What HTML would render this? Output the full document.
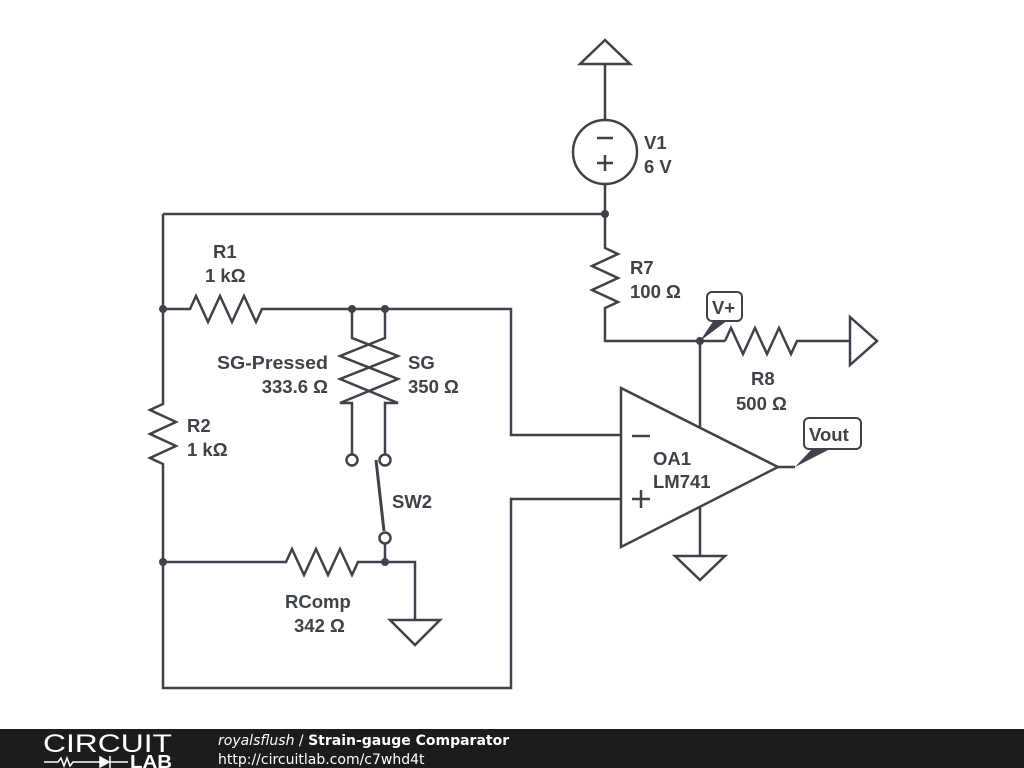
<!DOCTYPE html>
<html><head><style>
html,body{margin:0;padding:0;background:#fff;width:1024px;height:768px;overflow:hidden}
svg{display:block}
text{font-family:"Liberation Sans",sans-serif;font-weight:bold;fill:#3d4348;font-size:18.5px}
text.f{font-family:"DejaVu Sans",sans-serif;fill:#fff;font-size:14px;font-weight:normal}
</style></head><body>
<svg width="1024" height="768" viewBox="0 0 1024 768">
<g stroke="#3d4348" stroke-width="2.5" fill="none" stroke-linejoin="miter">
<polygon points="605,40 580,64 630,64"/>
<line x1="605" y1="64" x2="605" y2="120"/>
<circle cx="605" cy="152" r="32"/>
<line x1="597" y1="138" x2="613" y2="138"/>
<line x1="597" y1="163" x2="613" y2="163"/><line x1="605" y1="155" x2="605" y2="171"/>
<line x1="605" y1="184" x2="605" y2="240"/>
<line x1="163" y1="214" x2="605" y2="214"/>
<polyline points="605,240 605,248 618,254 592,266 618,278 592,290 618,302 605,308 605,341 725,341"/>
<polyline points="725,341 731,328 743,354 755,328 767,354 779,328 791,354 797,341 850,341"/>
<polygon points="850,317 850,365 877,341"/>
<line x1="700" y1="341" x2="700" y2="428"/>
<line x1="700" y1="507" x2="700" y2="556"/>
<polygon points="675,556 725,556 700,580"/>
<polygon points="621,388 621,547 778,467"/>
<line x1="778" y1="467" x2="795" y2="467"/>
<line x1="632" y1="436" x2="650" y2="436"/>
<line x1="632" y1="499" x2="650" y2="499"/><line x1="641" y1="490" x2="641" y2="508"/>
<polyline points="163,214 163,400"/>
<polyline points="163,400 163,404 150,410 176,422 150,434 176,446 150,458 163,464 163,688 511,688 511,499 621,499"/>
<polyline points="163,309 190,309 196,296 208,322 220,296 232,322 244,296 256,322 262,309 511,309 511,435 621,435"/>
<polyline points="352,309 352,338 398,356 340,379 398,403 385,403 385,455"/>
<polyline points="385,309 385,338 340,356 398,379 340,403 352,403 352,455"/>
<circle cx="352" cy="460" r="5.5"/>
<circle cx="385" cy="460" r="5.5"/>
<line x1="376" y1="460" x2="384" y2="531" stroke-width="3"/>
<circle cx="385" cy="538" r="5.5"/>
<line x1="385" y1="543" x2="385" y2="562"/>
<polyline points="163,562 286,562 292,549 304,575 316,549 328,575 340,549 352,575 358,562 415,562 415,620"/>
<polygon points="390,620 440,620 415,645"/>
</g>
<g fill="#3d4348">
<circle cx="605" cy="214" r="4"/><circle cx="163" cy="309" r="4"/><circle cx="163" cy="562" r="4"/>
<circle cx="352" cy="309" r="4"/><circle cx="385" cy="309" r="4"/><circle cx="385" cy="562" r="4"/>
<circle cx="700" cy="341" r="4"/>
<polygon points="700,341 714,320 728,320"/>
<polygon points="795,467 812,449 830,449"/>
</g>
<g fill="#fff" stroke="#3d4348" stroke-width="2">
<rect x="707" y="292" width="35" height="29" rx="5"/>
<rect x="804" y="418" width="57" height="31" rx="5"/>
</g>
<text x="644" y="149">V1</text><text x="644" y="173">6 V</text>
<text x="213" y="258">R1</text><text x="205" y="282">1 kΩ</text>
<text x="630" y="274">R7</text><text x="630" y="298">100 Ω</text>
<text x="712" y="314">V+</text>
<text x="809" y="441" font-size="19">Vout</text>
<text x="751" y="385">R8</text><text x="736" y="410">500 Ω</text>
<text x="328" y="369" text-anchor="end" textLength="111" lengthAdjust="spacingAndGlyphs">SG-Pressed</text><text x="328" y="393" text-anchor="end">333.6 Ω</text>
<text x="408" y="369">SG</text><text x="408" y="393">350 Ω</text>
<text x="187" y="432">R2</text><text x="187" y="456">1 kΩ</text>
<text x="392" y="508">SW2</text>
<text x="653" y="465">OA1</text><text x="653" y="488">LM741</text>
<text x="285" y="608">RComp</text><text x="294" y="632">342 Ω</text>
<rect x="0" y="729" width="1024" height="39" fill="#1c1c1c"/>
<text x="43" y="752" textLength="129" lengthAdjust="spacingAndGlyphs" style="font-weight:normal;fill:#fff;font-size:25px">CIRCUIT</text>
<g stroke="#fff" stroke-width="1.5" fill="none"><polyline points="44,762 58,762 61,758 64,766 67,758 70,766 73,762 100,762"/><polygon points="100,757 100,767 109,762" fill="#fff"/><line x1="110" y1="756" x2="110" y2="768"/><line x1="110" y1="762" x2="128" y2="762"/></g>
<text x="130" y="768" textLength="42" lengthAdjust="spacingAndGlyphs" style="fill:#fff;font-size:18px">LAB</text>
<text x="218" y="745" class="f"><tspan style="font-style:italic">royalsflush</tspan> / <tspan style="font-weight:bold">Strain-gauge Comparator</tspan></text>
<text x="218" y="764" class="f">http://circuitlab.com/c7whd4t</text>
</svg>
</body></html>
